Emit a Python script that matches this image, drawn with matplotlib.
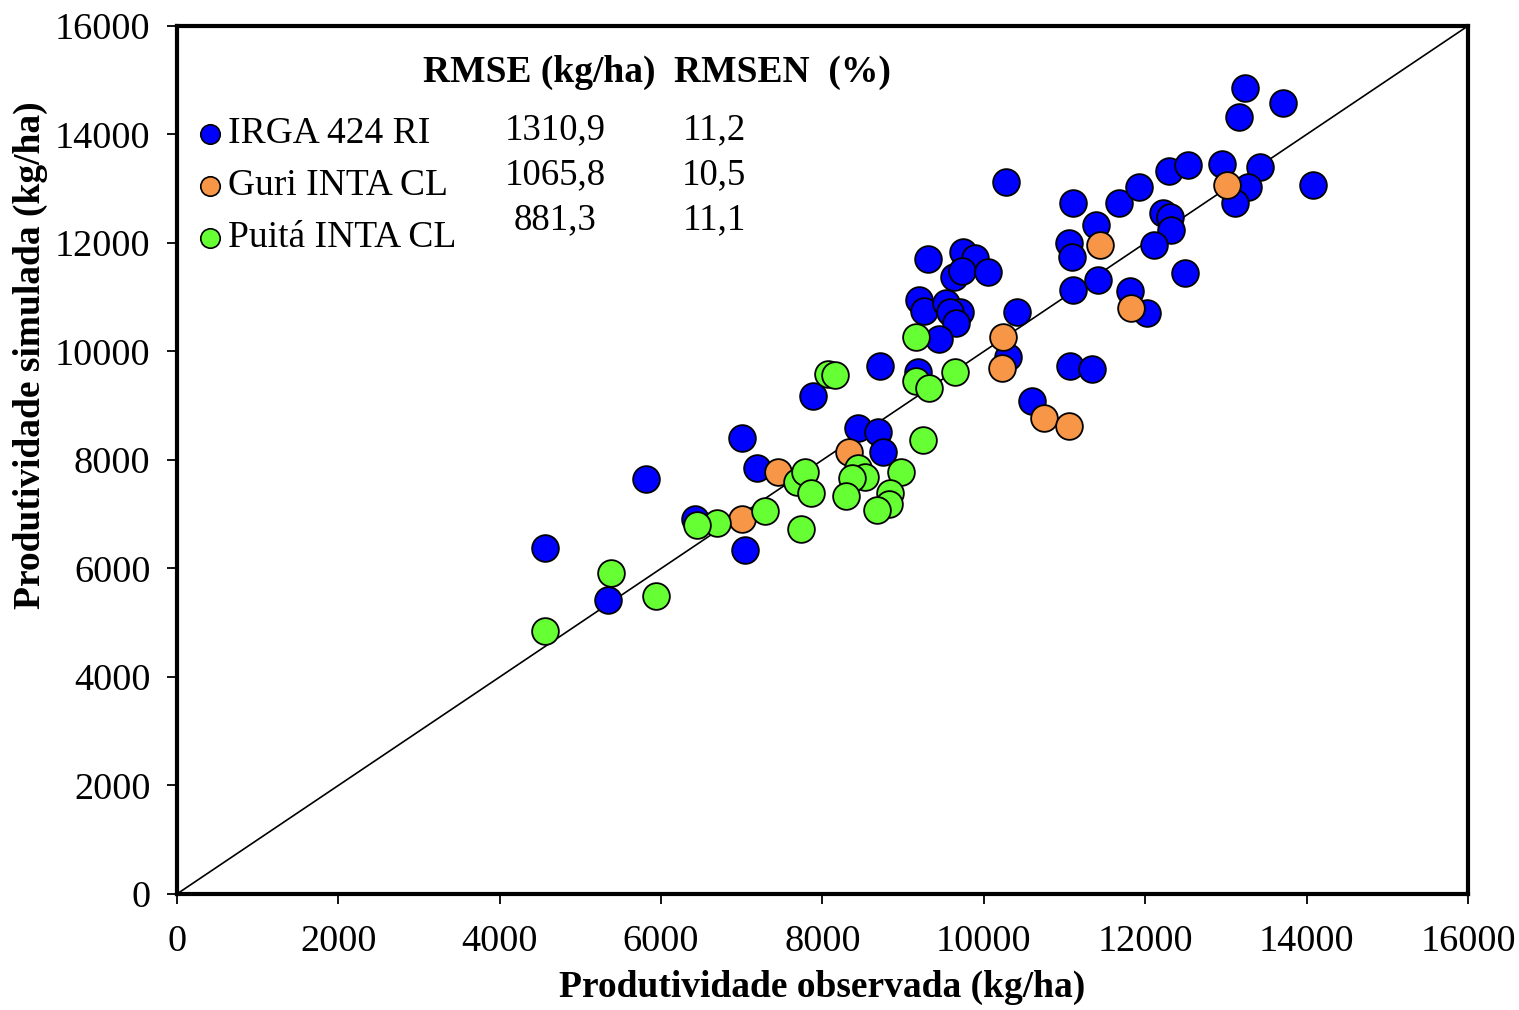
import matplotlib.pyplot as plt

plt.rcParams["font.family"] = ["Liberation Serif", "DejaVu Serif"]

# IRGA 424 RI (observed, simulated)
irga_obs = [10270, 11110, 11680, 11920, 12290, 12530, 12950, 13420, 13280, 13110, 14075, 13240, 13710, 13160,
            11390, 11050, 11090, 12220, 12310, 12320, 12110, 12490, 11410, 11100, 11810, 12020, 10410, 10300,
            11070, 11340, 10600,
            9310, 9740, 9890, 9630, 9730, 10050, 9200, 9260, 9530, 9700, 9580, 9650, 9450, 8710, 9180, 8440,
            8690, 8750, 7880, 7000, 7190, 6420, 7040, 5810, 4560, 5340]
irga_sim = [13120, 12740, 12730, 13030, 13330, 13440, 13460, 13400, 13030, 12730, 13060, 14860, 14580, 14320,
            12330, 12000, 11740, 12550, 12470, 12230, 11960, 11440, 11320, 11130, 11120, 10700, 10720, 9890,
            9730, 9670, 9090,
            11700, 11840, 11730, 11380, 11480, 11460, 10940, 10750, 10890, 10720, 10730, 10520, 10230, 9730, 9620, 8580,
            8520, 8150, 9170, 8400, 7860, 6920, 6340, 7650, 6370, 5420]

# Guri INTA CL
guri_obs = [13010, 11440, 11830, 10240, 10220, 10740, 11060, 8330, 7450, 7000]
guri_sim = [13060, 11960, 10810, 10270, 9690, 8770, 8630, 8150, 7770, 6920]

# Puitá INTA CL
puita_obs = [9160, 9160, 9320, 9640, 9250, 8070, 8160, 7680, 7780, 7860, 8440, 8530, 8360, 8290, 8970,
             8840, 8820, 8680, 7290, 7730, 6690, 6440, 5380, 5940, 4560]
puita_sim = [10260, 9460, 9330, 9620, 8360, 9580, 9570, 7600, 7780, 7400, 7850, 7690, 7660, 7340, 7780,
             7400, 7180, 7080, 7060, 6730, 6830, 6800, 5910, 5500, 4850]

names = ["IRGA 424 RI", "Guri INTA CL", "Puitá INTA CL"]
colors = ["#0000FF", "#F79646", "#66FF33"]
rmse = ["1310,9", "1065,8", "881,3"]
rmsen = ["11,2", "10,5", "11,1"]

fig = plt.figure(figsize=(15.19, 10.10), dpi=100)
ax = fig.add_axes([0.1165, 0.1149, 0.8499, 0.8594])

ax.plot([0, 16000], [0, 16000], color="black", lw=1.2, zorder=1)
for xs, ys, c in [(irga_obs, irga_sim, colors[0]), (guri_obs, guri_sim, colors[1]), (puita_obs, puita_sim, colors[2])]:
    ax.scatter(xs, ys, s=370, c=c, edgecolors="black", linewidths=1.3, zorder=3)

ax.set_xlim(0, 16000)
ax.set_ylim(0, 16000)
ax.set_xticks(range(0, 16001, 2000))
ax.set_yticks(range(0, 16001, 2000))
ax.tick_params(direction="out", length=7, width=1.3, labelsize=27.5, pad=12)
ax.tick_params(axis="x", pad=15)
for sp in ax.spines.values():
    sp.set_linewidth(3)

ax.set_xlabel("Produtividade observada (kg/ha)", fontsize=27, fontweight="bold")
ax.set_ylabel("Produtividade simulada (kg/ha)", fontsize=27, fontweight="bold")
ax.xaxis.set_label_coords(0.5, -0.087)
ax.yaxis.set_label_coords(-0.1, 0.621)

# legend drawn by hand (markers + names)
for i in range(3):
    yy = 0.876 - i * 0.06
    ax.plot([0.0256], [yy], marker="o", ls="none", markersize=14, markerfacecolor=colors[i],
            markeredgecolor="black", markeredgewidth=1.2, transform=ax.transAxes, clip_on=False)
    ax.text(0.0395, yy, names[i], transform=ax.transAxes, ha="left", va="center", fontsize=27)

ax.text(0.281, 0.946, "RMSE (kg/ha)", transform=ax.transAxes, ha="center", va="center",
        fontsize=27, fontweight="bold")
ax.text(0.469, 0.946, "RMSEN  (%)", transform=ax.transAxes, ha="center", va="center",
        fontsize=27, fontweight="bold")
for i in range(3):
    yy = 0.880 - i * 0.052
    ax.text(0.293, yy, rmse[i], transform=ax.transAxes, ha="center", va="center", fontsize=26.5)
    ax.text(0.416, yy, rmsen[i], transform=ax.transAxes, ha="center", va="center", fontsize=26.5)

fig.savefig("out.png", dpi=100)
